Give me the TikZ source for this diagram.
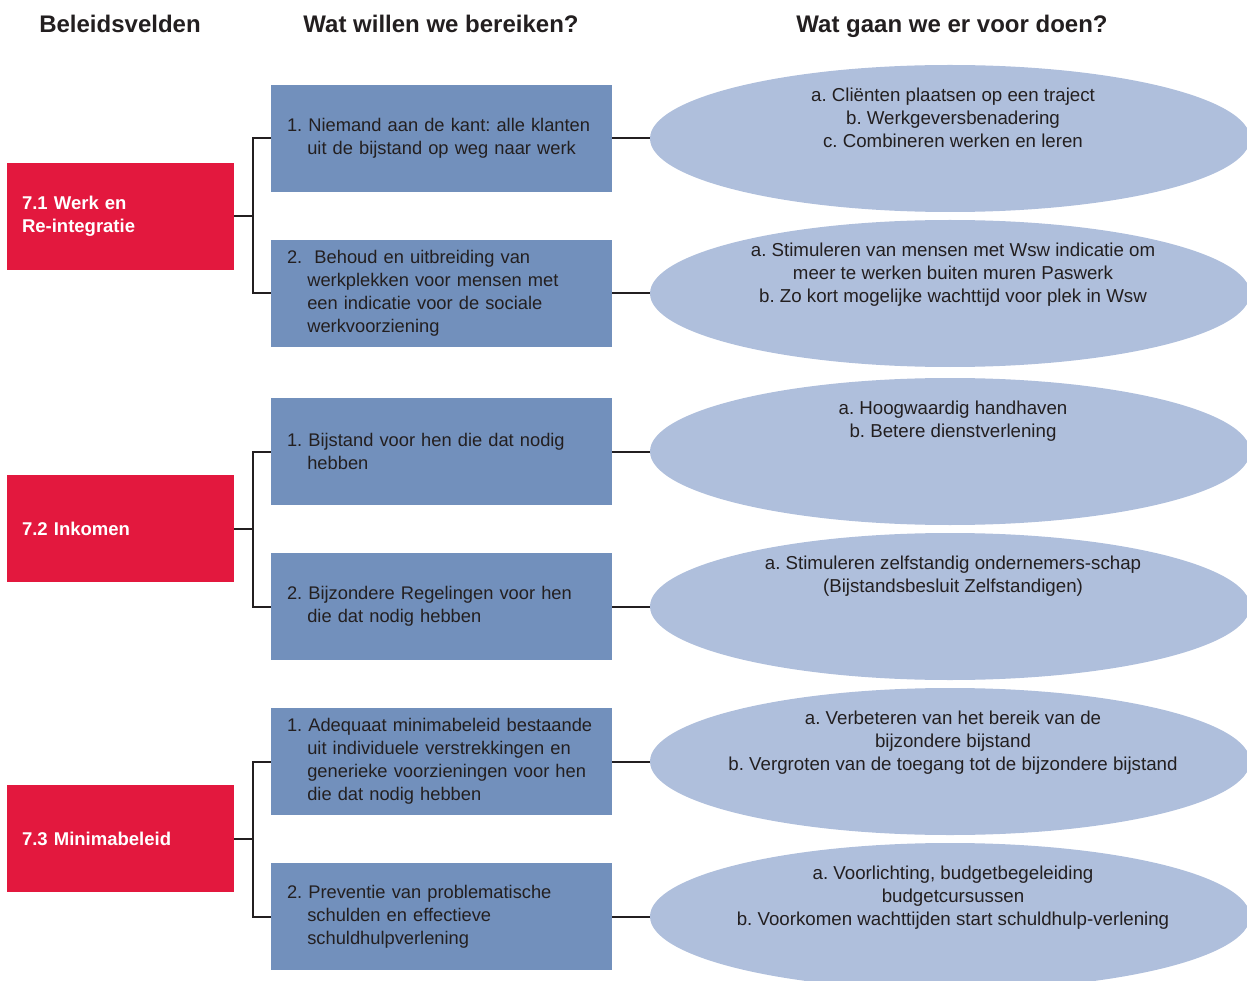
\documentclass[tikz,border=0pt]{standalone}
\usepackage{fontspec}
\setmainfont{Liberation Sans}
\usetikzlibrary{shapes.geometric,calc}
\definecolor{redbox}{HTML}{E3183E}
\definecolor{bluebox}{HTML}{7290BC}
\definecolor{ellfill}{HTML}{AFBFDC}
\definecolor{ink}{HTML}{231F20}
\newcommand{\pad}{\hspace*{16pt}}
\newcommand{\hind}{\hspace*{36.3pt}}
\frenchspacing
\begin{document}
\begin{tikzpicture}[x=1pt,y=-1pt,
  hdr/.style={font=\fontsize{24}{28}\selectfont\bfseries, text=ink, inner sep=0pt, anchor=base},
  redn/.style={rectangle, fill=redbox, minimum width=227pt, minimum height=107pt,
     text width=197pt, inner xsep=15pt, inner ysep=0pt, align=left, text=white,
     font=\fontsize{18.5}{23}\selectfont\bfseries},
  bluen/.style={rectangle, fill=bluebox, minimum width=341pt, minimum height=107pt,
     text width=341pt, inner xsep=0pt, inner ysep=0pt, align=left, text=ink,
     font=\fontsize{18.3}{23}\selectfont},
  elln/.style={ellipse, fill=ellfill, minimum width=600pt, minimum height=147pt, inner sep=0pt},
  etxt/.style={anchor=north, inner sep=0pt, align=center, text=ink,
     font=\fontsize{18.7}{23}\selectfont},
  conn/.style={draw=ink, line width=2pt}
]
\useasboundingbox (0,0) rectangle (1247,981);

% headers
\node[hdr] (h1) at (120,33) {Beleidsvelden};
\node[hdr] (h2) at (441,33) {Wat willen we bereiken?};
\node[hdr] (h3) at (952,33) {Wat gaan we er voor doen?};

% red boxes
\node[redn] (r1) at (120.5,216.5) {7.1 Werk en\\Re-integratie};
\node[redn] (r2) at (120.5,528.5) {7.2 Inkomen};
\node[redn] (r3) at (120.5,838.5) {7.3 Minimabeleid};

% blue boxes
\node[bluen] (b1) at (441.5,138.5) {\pad 1. Niemand aan de kant: alle klanten\\\hind uit de bijstand op weg naar werk};
\node[bluen] (b2) at (441.5,293.5) {\pad 2.\ \ Behoud en uitbreiding van\\\hind werkplekken voor mensen met\\\hind een indicatie voor de sociale\\\hind werkvoorziening};
\node[bluen] (b3) at (441.5,451.5) {\pad 1. Bijstand voor hen die dat nodig\\\hind hebben};
\node[bluen] (b4) at (441.5,606.5) {\pad 2. Bijzondere Regelingen voor hen\\\hind die dat nodig hebben};
\node[bluen] (b5) at (441.5,761.5) {\pad 1. Adequaat minimabeleid bestaande\\\hind uit individuele verstrekkingen en\\\hind generieke voorzieningen voor hen\\\hind die dat nodig hebben};
\node[bluen] (b6) at (441.5,916.5) {\pad 2. Preventie van problematische\\\hind schulden en effectieve\\\hind schuldhulpverlening};

% ellipses
\node[elln] (e1) at (950,138.5) {};
\node[elln] (e2) at (950,293.5) {};
\node[elln] (e3) at (950,451.5) {};
\node[elln] (e4) at (950,606.5) {};
\node[elln] (e5) at (950,761.5) {};
\node[elln] (e6) at (950,916.5) {};

\node[etxt] (t1) at ($(e1.north)+(3,23)$) {a. Cliënten plaatsen op een traject\\b. Werkgeversbenadering\\c. Combineren werken en leren};
\node[etxt] (t2) at ($(e2.north)+(3,23)$) {a. Stimuleren van mensen met Wsw indicatie om\\meer te werken buiten muren Paswerk\\b. Zo kort mogelijke wachttijd voor plek in Wsw};
\node[etxt] (t3) at ($(e3.north)+(3,23)$) {a. Hoogwaardig handhaven\\b. Betere dienstverlening};
\node[etxt] (t4) at ($(e4.north)+(3,23)$) {a. Stimuleren zelfstandig ondernemers-schap\\(Bijstandsbesluit Zelfstandigen)};
\node[etxt] (t5) at ($(e5.north)+(3,23)$) {a. Verbeteren van het bereik van de\\bijzondere bijstand\\b. Vergroten van de toegang tot de bijzondere bijstand};
\node[etxt] (t6) at ($(e6.north)+(3,23)$) {a. Voorlichting, budgetbegeleiding\\budgetcursussen\\b. Voorkomen wachttijden start schuldhulp-verlening};

% connectors red -> blue
\draw[conn] (r1.east) -- ++(19,0) coordinate (j1);
\draw[conn] (b1.west) -| (j1) |- (b2.west);
\draw[conn] (r2.east) -- ++(19,0) coordinate (j2);
\draw[conn] (b3.west) -| (j2) |- (b4.west);
\draw[conn] (r3.east) -- ++(19,0) coordinate (j3);
\draw[conn] (b5.west) -| (j3) |- (b6.west);

% connectors blue -> ellipse
\draw[conn] (b1.east) -- (e1.west);
\draw[conn] (b2.east) -- (e2.west);
\draw[conn] (b3.east) -- (e3.west);
\draw[conn] (b4.east) -- (e4.west);
\draw[conn] (b5.east) -- (e5.west);
\draw[conn] (b6.east) -- (e6.west);
\end{tikzpicture}
\end{document}
